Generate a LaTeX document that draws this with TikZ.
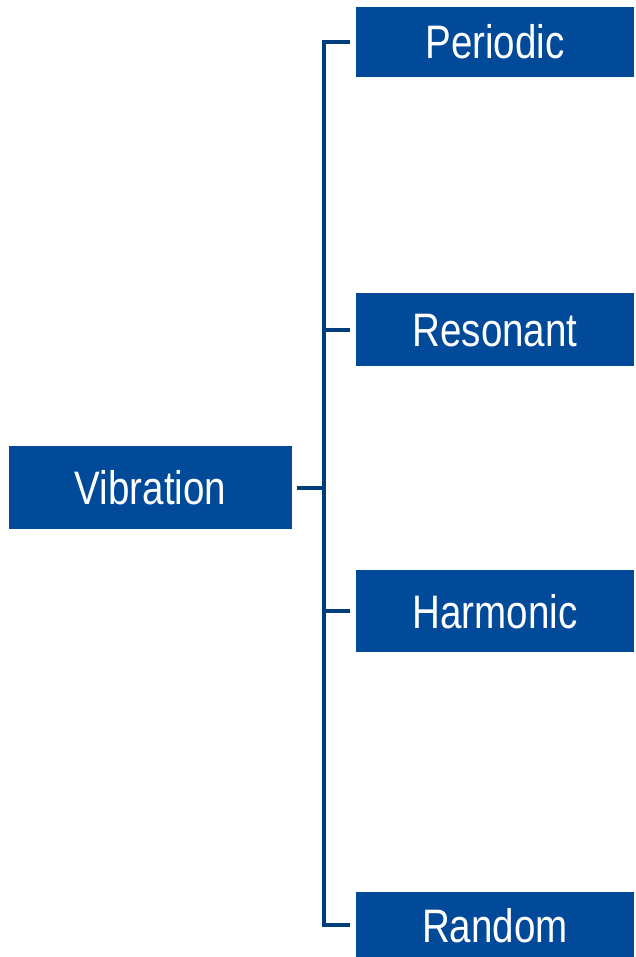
\documentclass[tikz,border=0pt]{standalone}
\usepackage{fontspec}
\setmainfont{Liberation Sans}[FakeStretch=0.82]
\definecolor{boxblue}{RGB}{0,74,153}
\definecolor{lineblue}{RGB}{0,61,124}
\begin{document}
\begin{tikzpicture}[x=1pt,y=-1pt,
  catbox/.style={fill=boxblue, draw=none, text=white, inner sep=0pt, anchor=center,
    font=\fontsize{47}{50}\selectfont, text height=34pt, text depth=0pt},
  conn/.style={draw=lineblue, line width=4pt}]
\useasboundingbox (0,0) rectangle (635,957);
\node[catbox, minimum width=283pt, minimum height=83pt] (vib) at (150.5,487.5) {Vibration};
\node[catbox, minimum width=278pt, minimum height=70pt] (per) at (495,42) {Periodic};
\node[catbox, minimum width=278pt, minimum height=73pt] (res) at (495,329.5) {Resonant};
\node[catbox, minimum width=278pt, minimum height=82pt] (har) at (495,611) {Harmonic};
\node[catbox, minimum width=278pt, minimum height=66pt] (ran) at (495,925) {Random};
\coordinate (trunk) at (324,0);
\draw[conn] ([xshift=-6pt]per.west) -- (per.west -| trunk) -- (ran.west -| trunk) -- ([xshift=-6pt]ran.west);
\draw[conn] ([xshift=-6pt]res.west) -- (res.west -| trunk);
\draw[conn] ([xshift=-6pt]har.west) -- (har.west -| trunk);
\draw[conn] ([xshift=5pt]vib.east) -- (vib.east -| trunk);
\end{tikzpicture}
\end{document}
